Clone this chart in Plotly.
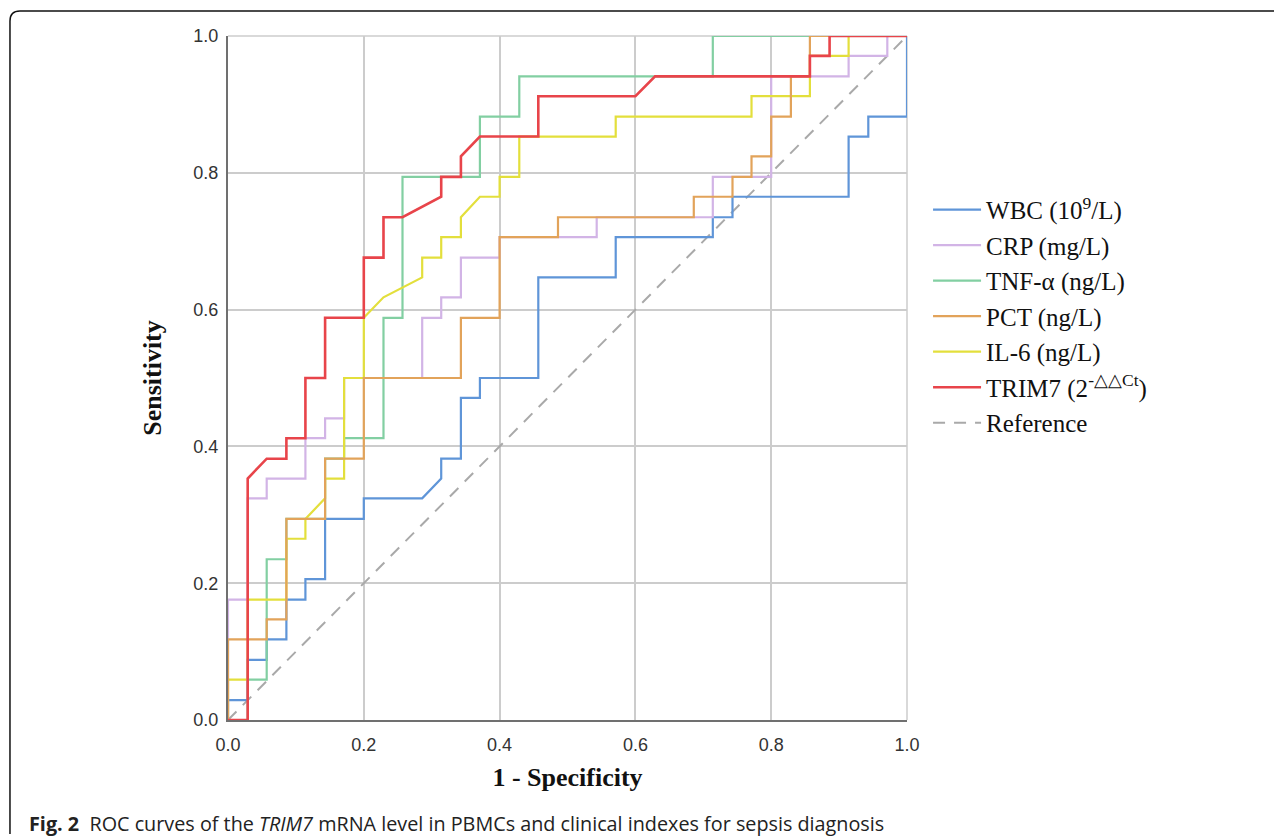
import plotly.graph_objects as go

# ROC curve coordinates (1 - specificity, sensitivity)
wbc_x = [0, 0, 0.029, 0.029, 0.057, 0.057, 0.086, 0.086, 0.114, 0.114, 0.143, 0.143, 0.2, 0.2, 0.286, 0.314, 0.314, 0.343, 0.343, 0.371,
         0.371, 0.457, 0.457, 0.571, 0.571, 0.714, 0.714, 0.743, 0.743, 0.914, 0.914, 0.943, 0.943, 1, 1]
wbc_y = [0, 0.029, 0.029, 0.088, 0.088, 0.118, 0.118, 0.176, 0.176, 0.206, 0.206, 0.294, 0.294, 0.324, 0.324, 0.353, 0.382, 0.382, 0.471, 0.471,
         0.5, 0.5, 0.647, 0.647, 0.706, 0.706, 0.735, 0.735, 0.765, 0.765, 0.853, 0.853, 0.882, 0.882, 1]

crp_x = [0, 0, 0.029, 0.029, 0.057, 0.057, 0.114, 0.114, 0.143, 0.143, 0.171, 0.171, 0.286, 0.286, 0.314, 0.314, 0.343, 0.343, 0.4, 0.4,
         0.543, 0.543, 0.714, 0.714, 0.8, 0.8, 0.914, 0.914, 0.971, 0.971, 1]
crp_y = [0, 0.176, 0.176, 0.324, 0.324, 0.353, 0.353, 0.412, 0.412, 0.441, 0.441, 0.5, 0.5, 0.588, 0.588, 0.618, 0.618, 0.676, 0.676, 0.706,
         0.706, 0.735, 0.735, 0.794, 0.794, 0.941, 0.941, 0.971, 0.971, 1, 1]

tnf_x = [0, 0.029, 0.029, 0.057, 0.057, 0.086, 0.086, 0.143, 0.143, 0.171, 0.171, 0.229, 0.229, 0.257, 0.257, 0.371, 0.371, 0.429, 0.429, 0.714, 0.714, 1]
tnf_y = [0, 0, 0.059, 0.059, 0.235, 0.235, 0.294, 0.294, 0.382, 0.382, 0.412, 0.412, 0.588, 0.588, 0.794, 0.794, 0.882, 0.882, 0.941, 0.941, 1, 1]

pct_x = [0, 0, 0.057, 0.057, 0.086, 0.086, 0.143, 0.143, 0.2, 0.2, 0.343, 0.343, 0.4, 0.4, 0.486, 0.486, 0.686, 0.686, 0.743, 0.743,
         0.771, 0.771, 0.8, 0.8, 0.829, 0.829, 0.857, 0.857, 1]
pct_y = [0, 0.118, 0.118, 0.147, 0.147, 0.294, 0.294, 0.382, 0.382, 0.5, 0.5, 0.588, 0.588, 0.706, 0.706, 0.735, 0.735, 0.765, 0.765, 0.794,
         0.794, 0.824, 0.824, 0.882, 0.882, 0.941, 0.941, 1, 1]

il6_x = [0, 0, 0.029, 0.029, 0.086, 0.086, 0.114, 0.114, 0.143, 0.143, 0.171, 0.171, 0.2, 0.2, 0.229, 0.286, 0.286, 0.314, 0.314, 0.343,
         0.343, 0.371, 0.4, 0.4, 0.429, 0.429, 0.571, 0.571, 0.771, 0.771, 0.857, 0.857, 0.914, 0.914, 1]
il6_y = [0, 0.059, 0.059, 0.176, 0.176, 0.265, 0.265, 0.294, 0.324, 0.353, 0.353, 0.5, 0.5, 0.588, 0.618, 0.647, 0.676, 0.676, 0.706, 0.706,
         0.735, 0.765, 0.765, 0.794, 0.794, 0.853, 0.853, 0.882, 0.882, 0.912, 0.912, 0.971, 0.971, 1, 1]

trim7_x = [0, 0.029, 0.029, 0.057, 0.086, 0.086, 0.114, 0.114, 0.143, 0.143, 0.2, 0.2, 0.229, 0.229, 0.257, 0.314, 0.314, 0.343, 0.343, 0.371,
           0.457, 0.457, 0.6, 0.629, 0.857, 0.857, 0.886, 0.886, 1]
trim7_y = [0, 0, 0.353, 0.382, 0.382, 0.412, 0.412, 0.5, 0.5, 0.588, 0.588, 0.676, 0.676, 0.735, 0.735, 0.765, 0.794, 0.794, 0.824, 0.853,
           0.853, 0.912, 0.912, 0.941, 0.941, 0.971, 0.971, 1, 1]

ref_x = [0, 1]
ref_y = [0, 1]

tick_vals = [0, 0.2, 0.4, 0.6, 0.8, 1.0]
tick_text = ["0.0", "0.2", "0.4", "0.6", "0.8", "1.0"]

names = ["WBC (10<sup>9</sup>/L)", "CRP (mg/L)", "TNF-α (ng/L)", "PCT (ng/L)",
         "IL-6 (ng/L)", "TRIM7 (2<sup>-△△Ct</sup>)", "Reference"]
colors = ["#5f95d8", "#d2b4e6", "#82cfa2", "#e2a35a", "#e3df3c", "#e8444a", "#a9a9a9"]

fig = go.Figure()

fig.add_trace(go.Scatter(x=ref_x, y=ref_y, mode="lines", name=names[6], legendrank=7,
                         line=dict(color=colors[6], width=2, dash="12px,9px")))
series = [
    (wbc_x, wbc_y, 0, 2.2),
    (crp_x, crp_y, 1, 2.2),
    (tnf_x, tnf_y, 2, 2.2),
    (il6_x, il6_y, 4, 2.2),
    (pct_x, pct_y, 3, 2.2),
    (trim7_x, trim7_y, 5, 2.6),
]
for xs, ys, i, w in series:
    fig.add_trace(go.Scatter(x=xs, y=ys, mode="lines", name=names[i], legendrank=i + 1,
                             line=dict(color=colors[i], width=w)))

tick_font = dict(family="Liberation Sans, Arial, sans-serif", size=18, color="#333333")
title_font = dict(family="Liberation Serif, Times New Roman, serif", size=26, color="#111111")

fig.update_xaxes(range=[0, 1], tickvals=tick_vals, ticktext=tick_text, showgrid=True,
                 gridcolor="#cccccc", gridwidth=1.5, showline=True, linecolor="#707070", linewidth=2,
                 zeroline=False, ticks="", tickfont=tick_font, ticklabelstandoff=7,
                 title=dict(text="<b>1 - Specificity</b>", font=title_font, standoff=14))
fig.update_yaxes(range=[0, 1], tickvals=tick_vals, ticktext=tick_text, showgrid=True,
                 gridcolor="#cccccc", gridwidth=1.5, showline=True, linecolor="#707070", linewidth=2,
                 zeroline=False, ticks="", tickfont=tick_font, ticklabelstandoff=4,
                 title=dict(text="<b>Sensitivity</b>", font=title_font, standoff=24))

# figure frame (journal-style border) and caption
fig.add_shape(type="path", xref="paper", yref="paper",
              path="M -0.3211,-0.1667 L -0.3211,1.0219 Q -0.3211,1.0365 -0.3064,1.0365 L 1.6,1.0365",
              line=dict(color="#111111", width=1.5))
fig.add_shape(type="line", xref="paper", yref="paper", x0=0, x1=1, y0=1, y1=1,
              line=dict(color="#cccccc", width=1.5), layer="below")
fig.add_shape(type="line", xref="paper", yref="paper", x0=1, x1=1, y0=0, y1=1,
              line=dict(color="#cccccc", width=1.5), layer="below")

fig.add_annotation(xref="paper", yref="paper", x=-0.296, y=-0.152, xanchor="left", yanchor="middle",
                   showarrow=False,
                   text="<b>Fig. 2</b>  ROC curves of the <i>TRIM7</i> mRNA level in PBMCs and clinical indexes for sepsis diagnosis",
                   font=dict(family="Open Sans, sans-serif", size=19.8, color="#222222"))

fig.update_layout(
    width=1274, height=829,
    margin=dict(l=220, r=375, t=28, b=117),
    paper_bgcolor="white", plot_bgcolor="white",
    showlegend=True,
    legend=dict(x=1.031, xanchor="left", y=0.59, yanchor="middle", itemwidth=48,
                font=dict(family="Liberation Serif, Times New Roman, serif", size=25, color="#111111"),
                bgcolor="rgba(0,0,0,0)", borderwidth=0),
)

fig.write_html("out.html")
